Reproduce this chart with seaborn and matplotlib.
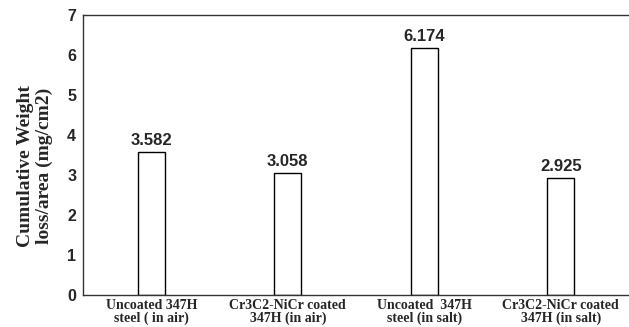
import matplotlib
matplotlib.use('Agg')
import matplotlib.pyplot as plt
import seaborn as sns
import pandas as pd

categories = ['Uncoated 347H\nsteel ( in air)', 'Cr3C2-NiCr coated\n347H (in air)',
              'Uncoated  347H\nsteel (in salt)', 'Cr3C2-NiCr coated\n347H (in salt)']
weight_loss = [3.582, 3.058, 6.174, 2.925]
yticks = [0, 1, 2, 3, 4, 5, 6, 7]

df = pd.DataFrame({'sample': categories, 'loss': weight_loss})

sns.set_style('white')
plt.rcParams['font.family'] = ['Liberation Sans', 'DejaVu Sans']

fig = plt.figure(figsize=(6.29, 3.27), dpi=100)
ax = fig.add_axes([0.132, 0.098, 0.868, 0.856])

sns.barplot(data=df, x='sample', y='loss', ax=ax, color='white',
            edgecolor='black', linewidth=1.0, width=0.2)

for i, v in enumerate(weight_loss):
    ax.text(i, v + 0.1, f'{v:.3f}', ha='center', va='bottom',
            fontsize=12, fontweight='bold')

ax.set_ylim(0, 7)
ax.set_xlim(-0.5, 3.5)
ax.set_yticks(yticks)
ax.set_yticklabels([str(t) for t in yticks], fontsize=11.5, fontweight='bold')
ax.set_xticks(range(len(categories)))
ax.set_xticklabels(categories, fontsize=10, fontweight='bold',
                   family='Liberation Serif', linespacing=0.9)
ax.tick_params(axis='y', length=0, pad=5)
ax.tick_params(axis='x', length=0, pad=3)
ax.set_xlabel('')
ax.set_ylabel('Cumulative Weight\nloss/area (mg/cm2)', fontsize=14,
              fontweight='bold', family='Liberation Serif', linespacing=1.1)
ax.yaxis.set_label_coords(-0.055, 0.46)

for side in ['left', 'bottom', 'top']:
    ax.spines[side].set_visible(True)
    ax.spines[side].set_color('#333333')
    ax.spines[side].set_linewidth(1.0)
ax.spines['right'].set_visible(False)

fig.savefig('out.png', dpi=100)
